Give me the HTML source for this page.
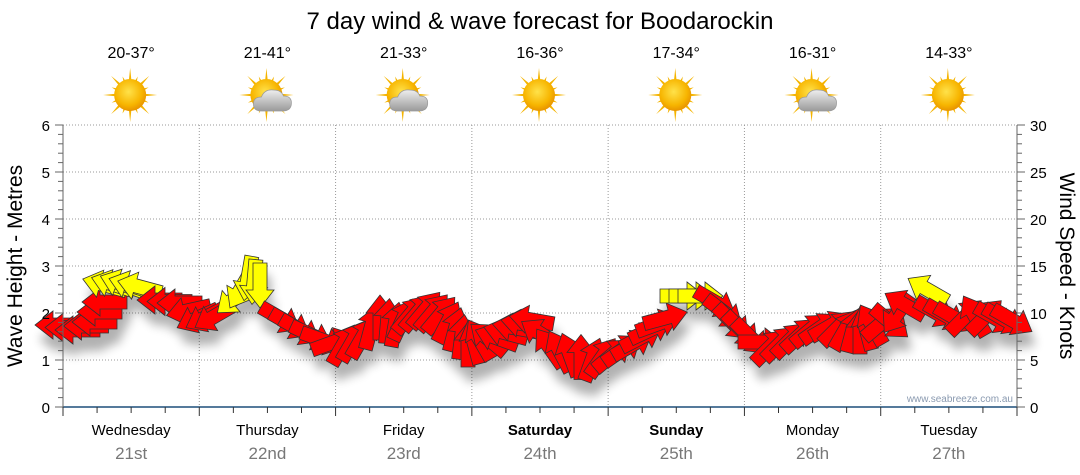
<!DOCTYPE html>
<html><head><meta charset="utf-8"><style>
html,body{margin:0;padding:0;background:#fff;}
svg{display:block;font-family:"Liberation Sans",sans-serif;}
</style></head><body>
<svg id="s" width="1080" height="475" viewBox="0 0 1080 475" xmlns="http://www.w3.org/2000/svg">
<defs>
<filter id="bl" x="-50%" y="-50%" width="200%" height="200%"><feGaussianBlur stdDeviation="5"/></filter>
<radialGradient id="sg" cx="45%" cy="40%" r="60%"><stop offset="0" stop-color="#ffe24a"/><stop offset="0.7" stop-color="#f7b500"/><stop offset="1" stop-color="#e89400"/></radialGradient>
<linearGradient id="cg" x1="0" y1="0" x2="0" y2="1"><stop offset="0" stop-color="#eee"/><stop offset="1" stop-color="#9a9a9a"/></linearGradient>
</defs>
<text x="540" y="29" font-size="24" text-anchor="middle" fill="#000">7 day wind &amp; wave forecast for Boodarockin</text>
<g id="grid" stroke="#999" stroke-width="1" stroke-dasharray="1,2"></g>
<g id="sh" filter="url(#bl)" opacity="0.3"></g>
<g id="ar" stroke="#333" stroke-width="0.8"></g>
<g id="ax"></g>
<text x="1013" y="402" font-size="10" text-anchor="end" fill="#8a9ab0">www.seabreeze.com.au</text>
<text transform="translate(22,266) rotate(-90)" font-size="21" text-anchor="middle">Wave Height - Metres</text>
<text transform="translate(1060,266) rotate(90)" font-size="21" text-anchor="middle">Wind Speed - Knots</text>
</svg>
<script>
var NS="http://www.w3.org/2000/svg",s=document.getElementById('s');
function el(p,t,a,txt){var e=document.createElementNS(NS,t);for(var k in a)e.setAttribute(k,a[k]);if(txt!=null)e.textContent=txt;p.appendChild(e);return e;}
var g=document.getElementById('grid'),ax=document.getElementById('ax');
var L=63,R=1017,T=125,B=407,dw=(R-L)/7;
for(var i=1;i<=6;i++){var y=B-i*47;el(g,'line',{x1:L,x2:R,y1:y,y2:y});}
for(var i=1;i<7;i++){var x=L+i*dw;el(g,'line',{x1:x,x2:x,y1:T,y2:B});}
el(ax,'line',{x1:L,x2:R,y1:B,y2:B,stroke:'#1d4f7a','stroke-width':1.5});
el(ax,'line',{x1:L,x2:L,y1:T,y2:B,stroke:'#666'});
el(ax,'line',{x1:R,x2:R,y1:T,y2:B,stroke:'#666'});
for(var i=0;i<=6;i++){var y=B-i*47;el(ax,'text',{x:50,y:y+6,'font-size':15,'text-anchor':'end'},i);el(ax,'line',{x1:L-8,x2:L,y1:y,y2:y,stroke:'#666'});}
for(var i=0;i<=30;i++){var y=B-i*(282/30);var big=i%5==0;el(ax,'line',{x1:R,x2:R+(big?8:5),y1:y,y2:y,stroke:'#666'});if(big)el(ax,'text',{x:1030,y:y+6,'font-size':15},i);}
for(var i=0;i<30;i++){var y=B-i*9.4;if(i%5)el(ax,'line',{x1:L-5,x2:L,y1:y,y2:y,stroke:'#666'});}
for(var i=0;i<=28;i++){var x=L+i*dw/4;el(ax,'line',{x1:x,x2:x,y1:B,y2:B+(i%4==0?9:6),stroke:'#333'});}
var days=['Wednesday','Thursday','Friday','Saturday','Sunday','Monday','Tuesday'],dates=['21st','22nd','23rd','24th','25th','26th','27th'],temps=['20-37°','21-41°','21-33°','16-36°','17-34°','16-31°','14-33°'],cl=[0,1,1,0,0,1,0];
for(var i=0;i<7;i++){var cx=L+(i+.5)*dw;
el(s,'text',{x:cx,y:435,'font-size':15,'text-anchor':'middle','font-weight':(i==3||i==4)?'bold':'normal'},days[i]);
el(s,'text',{x:cx,y:459,'font-size':17,'text-anchor':'middle',fill:'#777'},dates[i]);
el(s,'text',{x:cx,y:58,'font-size':16,'text-anchor':'middle'},temps[i]);
var gg=el(s,'g',{transform:'translate('+(cx-1)+',95)'});
for(var r=0;r<16;r++){var a=r*Math.PI/8,l=(r%2?20:27);var p=[Math.cos(a)*l,Math.sin(a)*l,Math.cos(a+0.13)*12,Math.sin(a+0.13)*12,Math.cos(a-0.13)*12,Math.sin(a-0.13)*12];el(gg,'polygon',{points:p.join(','),fill:'#f4b400'});}
el(gg,'circle',{r:16,fill:'url(#sg)'});
if(cl[i]){el(gg,'path',{d:'M-5,16 q-8,0 -8,-7 q0,-7 8,-7 q3,-8 12,-7 q8,0 10,6 q8,0 8,7 q0,8 -9,8 z',fill:'url(#cg)',stroke:'#999','stroke-width':0.7});}
}
var K=[[58,325,180,0],[78,330,180,0],[95,322,180,0],[105,302,180,0],[105,285,-165,1],[122,284,-160,1],[140,287,-165,1],[160,300,180,0],[180,303,180,0],[198,318,155,0],[215,316,150,0],[235,298,140,1],[248,278,100,1],[260,285,90,1],[280,318,30,0],[300,330,30,0],[322,340,20,0],[343,345,-60,0],[362,338,-60,0],[380,318,-90,0],[395,325,-80,0],[410,315,-50,0],[425,310,-50,0],[440,315,-50,0],[455,330,-75,0],[468,345,-90,0],[480,340,-120,0],[497,338,-160,0],[515,328,-170,0],[532,320,-170,0],[550,348,-125,0],[570,355,-110,0],[592,360,-70,0],[612,355,-40,0],[632,345,-30,0],[650,330,-25,0],[665,318,-15,0],[682,296,0,1],[700,296,0,1],[715,302,30,0],[732,322,45,0],[750,337,45,0],[770,347,-45,0],[790,340,-45,0],[810,330,-40,0],[830,326,-30,0],[845,330,-60,0],[860,332,-90,0],[872,325,-120,0],[890,322,40,0],[905,305,-150,0],[928,290,-150,1],[935,312,30,0],[955,318,30,0],[975,316,-120,0],[995,318,30,0],[1012,320,30,0]];
var sh=document.getElementById('sh'),ar=document.getElementById('ar');
var pts='-22,-7 5,-7 5,-14 23,0 5,14 5,7 -22,7';
function put(x,y,a,c){el(sh,'polygon',{points:pts,fill:'#000',transform:'translate('+(x+4)+','+(y+14)+') rotate('+a+')'});
el(ar,'polygon',{points:pts,fill:c?'#ffff00':'#ff0000',transform:'translate('+x+','+y+') rotate('+a+')'});}
for(var i=0;i<K.length;i++){var k=K[i];put(k[0],k[1],k[2],k[3]);
if(i<K.length-1){var n=K[i+1];if(k[3]==n[3]){var da=n[2]-k[2];if(da>180)da-=360;if(da<-180)da+=360;put((k[0]+n[0])/2,(k[1]+n[1])/2,k[2]+da/2,k[3]);}}}
</script>
</body></html>
